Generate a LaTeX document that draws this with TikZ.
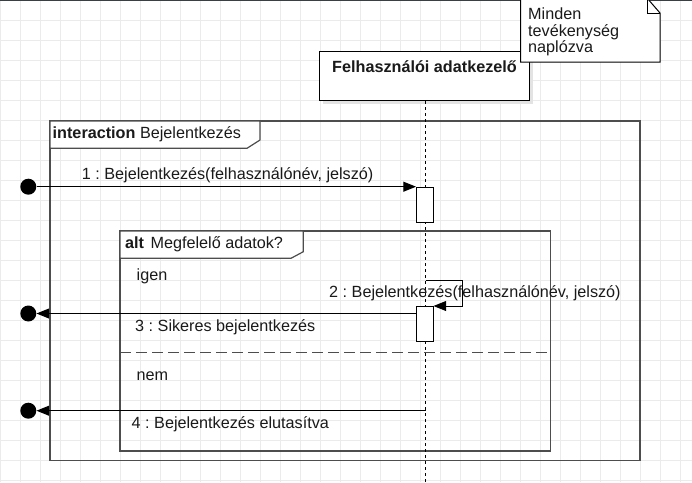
\documentclass[tikz,border=0pt]{standalone}
\usepackage{fontspec}
\setmainfont{Liberation Sans}
\usetikzlibrary{arrows.meta}
\definecolor{gridc}{HTML}{EBEBEB}
\definecolor{framec}{HTML}{4D4D4D}
\definecolor{shadowc}{HTML}{E3E3E3}
\definecolor{txtc}{HTML}{1A1A1A}
\definecolor{topc}{HTML}{3A3F44}
\tikzset{
  txt/.style={font=\fontsize{16.2}{19}\selectfont, inner sep=0pt, anchor=base west, text=txtc},
  frameline/.style={draw=framec, line width=1.2pt},
  actbox/.style={draw=black, fill=white, line width=1pt, inner sep=0pt, minimum width=16.5pt, minimum height=35pt, anchor=north west},
  enddot/.style={circle, fill=black, minimum size=16pt, inner sep=0pt},
  msg/.style={draw=black, line width=1pt, -{Triangle[length=12.7pt,width=10pt]}},
  lifeline/.style={draw=black, line width=1pt, dash pattern=on 3pt off 3pt},
}
\begin{document}
\frenchspacing
\begin{tikzpicture}[x=1pt,y=-1pt]
\useasboundingbox (0,0) rectangle (692,482);
\fill[white] (0,0) rectangle (692,482);
% grid
\foreach \g in {0.7,20.7,...,691} \draw[gridc, line width=1pt] (\g,0) -- (\g,482);
\foreach \g in {0.7,20.7,...,481} \draw[gridc, line width=1pt] (0,\g) -- (692,\g);
% top edge line
\draw[topc, line width=1.3pt] (0,0.6) -- (692,0.6);

% frames
\draw[frameline] (50,121) rectangle (640,460.5);
\draw[frameline, fill=white] (50,121) -- (260,121) -- (260,140) -- (247,148.3) -- (50,148.3) -- cycle;
\node[txt] (intlbl) at (52.5,138.5) {\textbf{interaction} Bejelentkezés};

\draw[frameline] (120,231) rectangle (550.5,451);
\draw[frameline, fill=white] (120,231) -- (303.3,231) -- (303.3,251.7) -- (291,258.3) -- (120,258.3) -- cycle;
\node[txt] (altlbl) at (125,248.3) {\textbf{alt}\hspace{6.5pt}Megfelelő adatok?};
\draw[framec, line width=1.2pt, dash pattern=on 11pt off 5pt] (120,352.3) -- (550.5,352.3);
\node[txt] (igen) at (136.5,280) {igen};
\node[txt] (nem) at (136.5,380) {nem};

% lifeline head
\fill[shadowc] (322.5,54) rectangle (532.5,103.5);
\node[draw=black, fill=white, line width=1pt, minimum width=209.7pt, minimum height=49pt, inner sep=0pt, anchor=north west] (head) at (319.3,51) {};
\node[font=\fontsize{16.2}{19}\selectfont\bfseries, inner sep=0pt, anchor=base, text=txtc] (headlbl) at (424.5,72.5) {Felhasználói adatkezelő};
\coordinate (llend) at (425.5,482);
\draw[lifeline] (head.south -| llend) -- (llend);

% note
\draw[black, line width=1pt, fill=white] (520.7,-2) -- (647,-2) -- (660,13) -- (660,62) -- (520.7,62) -- cycle;
\draw[black, line width=1pt] (647,-1) -- (647,13) -- (660,13);
\node[txt] (n1) at (528,19.8) {Minden};
\node[txt] (n2) at (528,36.2) {tevékenység};
\node[txt] (n3) at (528,52.6) {naplózva};

% activations
\node[actbox] (act1) at (416,186.7) {};
\node[actbox, minimum height=34.7pt] (act2) at (416,306) {};

% message 1
\node[enddot] (d1) at (28.3,186.7) {};
\draw[msg] (d1) -- (act1.north west);
\node[txt] (m1lbl) at (81.7,179) {1 : Bejelentkezés(felhasználónév, jelszó)};

% message 2 (self)
\coordinate (s2s) at (425.5,280.5);
\draw[msg] (s2s) -- ++(37,0) |- (act2.north east);
\node[txt] (m2lbl) at (329,297.5) {2 : Bejelentkezés(felhasználónév, jelszó)};

% message 3
\coordinate (m3s) at (416,313.5);
\node[enddot] (d3) at (28.3,313.5) {};
\draw[msg] (m3s) -- (d3);
\node[txt] (m3lbl) at (135,331) {3 : Sikeres bejelentkezés};

% message 4
\coordinate (m4s) at (425.5,410.7);
\node[enddot] (d4) at (28.3,410.7) {};
\draw[msg] (m4s) -- (d4);
\node[txt] (m4lbl) at (131.5,428.5) {4 : Bejelentkezés elutasítva};
\end{tikzpicture}
\end{document}
